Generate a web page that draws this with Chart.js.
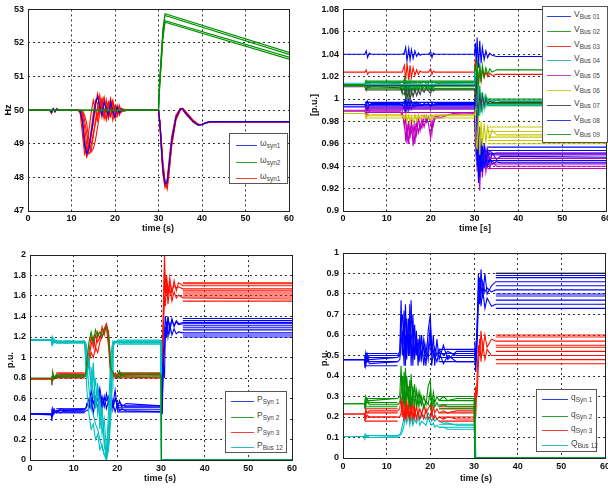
<!DOCTYPE html>
<html><head><meta charset="utf-8">
<script src="https://cdn.jsdelivr.net/npm/chart.js@4.4.1/dist/chart.umd.min.js"></script>
<style>
html,body{margin:0;padding:0;background:#fff;overflow:hidden;width:608px;height:488px;}
#wrap{position:relative;width:608px;height:488px;overflow:hidden;}
canvas{position:absolute;}
.lab{position:absolute;font:bold 9px "Liberation Sans",Arial,sans-serif;color:#111;white-space:nowrap;}
.rot{transform:translate(-50%,-50%) rotate(-90deg);}
.ctr{transform:translate(-50%,-50%);}
.leg{position:absolute;background:#fff;border:1px solid #555;box-sizing:border-box;}
.le{position:absolute;left:0;height:0;font:8.5px "Liberation Sans",Arial,sans-serif;color:#444;white-space:nowrap;}
.le i{position:absolute;height:0;border-top:1px solid;top:0;}
.le span{position:absolute;top:-7px;}
.le sub{font-size:6.5px;vertical-align:-2px;}
</style></head>
<body><div id="wrap">
<canvas id="c1" width="304" height="235" style="left:0;top:0"></canvas>
<canvas id="c2" width="320" height="235" style="left:304px;top:0"></canvas>
<canvas id="c3" width="304" height="253" style="left:0;top:235px"></canvas>
<canvas id="c4" width="320" height="253" style="left:304px;top:235px"></canvas>

<div class="lab rot" style="left:8px;top:110px">Hz</div>
<div class="lab ctr" style="left:158px;top:228px">time (s)</div>
<div class="lab rot" style="left:314px;top:105px">[p.u.]</div>
<div class="lab ctr" style="left:475px;top:228px">time [s]</div>
<div class="lab rot" style="left:10px;top:360px">p.u.</div>
<div class="lab ctr" style="left:160px;top:478px">time (s)</div>
<div class="lab rot" style="left:324px;top:358px">p.u.</div>
<div class="lab ctr" style="left:476px;top:478px">time (s)</div>

<div class="leg" style="left:229px;top:133px;width:59px;height:51px">
 <div class="le" style="top:11px"><i style="left:6px;width:21px;border-color:#3344dd"></i><span style="left:30px">ω<sub>syn1</sub></span></div>
 <div class="le" style="top:28px"><i style="left:6px;width:21px;border-color:#33a033"></i><span style="left:30px">ω<sub>syn2</sub></span></div>
 <div class="le" style="top:44px"><i style="left:6px;width:21px;border-color:#ee4433"></i><span style="left:30px">ω<sub>syn1</sub></span></div>
</div>

<div class="leg" id="leg2" style="left:542px;top:6px;width:66px;height:137px"></div>

<div class="leg" style="left:225px;top:391px;width:62px;height:62px">
 <div class="le" style="top:9px"><i style="left:5px;width:23px;border-color:#3344dd"></i><span style="left:31px">P<sub>Syn 1</sub></span></div>
 <div class="le" style="top:25px"><i style="left:5px;width:23px;border-color:#33a033"></i><span style="left:31px">P<sub>Syn 2</sub></span></div>
 <div class="le" style="top:40px"><i style="left:5px;width:23px;border-color:#ee4433"></i><span style="left:31px">P<sub>Syn 3</sub></span></div>
 <div class="le" style="top:55px"><i style="left:5px;width:23px;border-color:#33bbbb"></i><span style="left:31px">P<sub>Bus 12</sub></span></div>
</div>

<div class="leg" style="left:536px;top:389px;width:61px;height:63px">
 <div class="le" style="top:9px"><i style="left:5px;width:26px;border-color:#3344dd"></i><span style="left:34px">q<sub>Syn 1</sub></span></div>
 <div class="le" style="top:26px"><i style="left:5px;width:26px;border-color:#33a033"></i><span style="left:34px">q<sub>Syn 2</sub></span></div>
 <div class="le" style="top:40px"><i style="left:5px;width:26px;border-color:#ee4433"></i><span style="left:34px">q<sub>Syn 3</sub></span></div>
 <div class="le" style="top:55px"><i style="left:5px;width:26px;border-color:#33bbbb"></i><span style="left:34px">Q<sub>Bus 12</sub></span></div>
</div>
</div>
<script>
// ---------- Subplot 1 : frequency (Hz) ----------
const tF = [0,5,5.4,5.8,6.2,6.6,7, 11.5,12,12.5,13,13.5,14,14.5,15,15.5,16,16.5,17,17.5,18,18.5,19,19.5,20,20.5,21,21.5,22,23, 30,30.3,30.6,31,31.5,32,32.5,33,34,35,35.5,36,37,38,39,39.5,40,41,42,44,60];
const fRedA = [50,50,49.9,50.05,49.95,50.05,50, 50,49.95,49.6,48.9,48.6,48.8,49.2,49.6,50.1,50.5,50.2,49.8,50.3,50.1,49.8,50.3,49.9,49.75,50.15,49.9,50.05,49.98,50, 50,49.6,49.0,48.2,47.75,47.9,48.5,49.1,49.8,50.05,50.05,49.95,49.8,49.65,49.57,49.56,49.58,49.63,49.66,49.66,49.66];
const fRedB = [50,50,49.95,50.05,49.98,50.03,50, 50,50,49.9,49.5,49.0,48.7,48.8,49.2,49.7,50.1,50.45,50.0,49.8,50.3,49.9,49.8,50.25,49.9,49.85,50.1,49.95,50.03,50, 50,49.7,49.2,48.5,47.9,47.65,48.2,48.9,49.7,50.0,50.05,50.0,49.85,49.7,49.6,49.57,49.58,49.62,49.65,49.65,49.65];
const fRedC = [50,50,49.92,50.02,49.97,50.04,50, 50,49.98,49.8,49.2,48.75,48.95,49.4,49.9,50.3,50.2,49.9,50.3,50.0,49.7,50.1,50.35,49.9,50.1,49.95,49.9,50.05,50,50, 50,49.65,49.1,48.3,47.85,47.8,48.35,49.0,49.75,50.02,50.06,49.97,49.82,49.67,49.58,49.56,49.58,49.63,49.66,49.66,49.66];
const fRedD = [50,50,49.97,50.03,49.96,50.02,50, 50,50,49.95,49.7,49.3,48.9,48.95,49.3,49.6,49.9,50.1,50.35,49.9,49.75,50.2,50.1,49.7,50.05,50.1,49.85,50.0,50.02,50, 50,49.6,48.9,48.1,47.7,47.95,48.6,49.2,49.85,50.05,50.03,49.93,49.78,49.64,49.56,49.55,49.57,49.62,49.65,49.65,49.65];
const fRedE = [50,50,49.94,50.04,49.97,50.02,50, 50,49.9,49.3,48.7,48.9,49.4,49.9,50.3,50.0,49.7,50.2,50.2,49.75,50.1,50.25,49.85,49.95,50.15,49.9,49.95,50.05,50,50, 50,49.62,49.05,48.25,47.8,47.85,48.4,49.05,49.8,50.04,50.04,49.95,49.8,49.66,49.57,49.56,49.58,49.63,49.66,49.66,49.66];
const fRedF = [50,50,49.96,50.02,49.95,50.04,50, 50,50,50,49.85,49.6,49.1,48.75,48.85,49.1,49.5,49.9,50.2,50.4,50.0,49.75,50.1,50.3,49.85,49.8,50.15,49.95,49.97,50, 50,49.68,49.15,48.4,47.82,47.7,48.25,48.95,49.72,50.01,50.05,49.99,49.84,49.69,49.59,49.57,49.58,49.62,49.65,49.65,49.65];
const fBlue = [50,50,49.93,50.04,49.96,50.03,50, 50,49.97,49.7,49.0,48.7,48.85,49.3,49.7,50.2,50.4,50.1,49.85,50.25,50.0,49.85,50.25,49.95,49.8,50.1,49.92,50.03,49.99,50, 50,49.65,49.05,48.25,47.8,47.85,48.45,49.05,49.78,50.03,50.05,49.96,49.8,49.66,49.57,49.56,49.58,49.63,49.66,49.66,49.66];
const tG = [0,30,30.2,30.6,31,31.5,60];
const fGreenA = [50,50,50.8,51.6,52.4,52.87,51.72];
const fGreenB = [50,50,50.6,51.5,52.3,52.82,51.66];
const fGreenC = [50,50,50.7,51.4,52.2,52.66,51.58];
const fGreenD = [50,50,50.5,51.3,52.1,52.62,51.52];

// ---------- Subplot 2 : bus voltages (p.u.) ----------
const tV = [0,5,5.3,5.6,6,6.4, 13,13.5,14,14.3,14.6,15,15.3,15.6,16,16.4,16.8,17.2,17.6,18,18.5,19,19.5,20,20.3,20.6,21,22,25, 30,30.2,30.4,30.6,30.9,31.2,31.5,31.8,32.2,32.6,33,33.5,34,35,36,60];
const v01 = [1.040,1.040,1.043,1.037,1.041,1.040, 1.040,1.040,1.041,1.046,1.034,1.045,1.035,1.044,1.036,1.043,1.038,1.041,1.039,1.040,1.040,1.040,1.040,1.042,1.037,1.041,1.040,1.040,1.040, 1.040,1.050,1.030,1.055,1.028,1.052,1.032,1.046,1.035,1.043,1.037,1.041,1.039,1.038,1.038,1.038];
const v02 = [1.013,1.013,1.016,1.010,1.015,1.013, 1.014,1.005,1.018,1.000,1.016,1.003,1.015,1.005,1.014,1.006,1.013,1.007,1.014,1.009,1.012,1.010,1.014,1.009,1.013,1.011,1.013,1.014,1.014, 1.015,1.030,0.985,1.020,0.980,1.012,0.988,1.006,0.992,1.003,0.995,1.000,0.997,0.999,0.998,0.998];
const v03 = [1.024,1.024,1.026,1.022,1.024,1.024, 1.024,1.024,1.030,1.016,1.032,1.017,1.030,1.019,1.028,1.021,1.026,1.022,1.025,1.024,1.024,1.024,1.024,1.027,1.022,1.025,1.024,1.024,1.024, 1.024,1.035,1.010,1.030,1.012,1.028,1.016,1.026,1.019,1.024,1.020,1.023,1.021,1.022,1.022,1.022];
const v04 = [1.014,1.014,1.016,1.011,1.014,1.014, 1.014,1.010,1.008,1.016,1.006,1.015,1.008,1.014,1.009,1.015,1.010,1.014,1.011,1.014,1.012,1.015,1.011,1.010,1.015,1.011,1.014,1.013,1.014, 1.014,1.025,1.000,0.990,1.012,0.985,1.006,0.990,1.002,0.993,1.000,0.995,0.998,0.996,0.996,0.996];
const v05 = [0.990,0.990,0.985,0.992,0.989,0.990, 0.990,0.990,0.975,0.985,0.960,0.980,0.965,0.982,0.958,0.978,0.968,0.984,0.972,0.982,0.975,0.983,0.978,0.965,0.980,0.976,0.985,0.983,0.987, 0.988,0.960,0.980,0.935,0.950,0.918,0.955,0.930,0.952,0.935,0.948,0.938,0.945,0.940,0.940,0.940];
const v05b = [0.989,0.989,0.992,0.986,0.990,0.989, 0.989,0.985,0.980,0.962,0.978,0.960,0.975,0.970,0.976,0.960,0.980,0.970,0.978,0.974,0.985,0.979,0.984,0.980,0.970,0.983,0.982,0.985,0.986, 0.987,0.975,0.945,0.970,0.930,0.960,0.940,0.958,0.945,0.956,0.948,0.954,0.951,0.952,0.952,0.952];
const v06 = [0.987,0.987,0.983,0.988,0.985,0.986, 0.986,0.985,0.982,0.987,0.980,0.986,0.978,0.984,0.979,0.986,0.980,0.985,0.982,0.986,0.983,0.986,0.982,0.981,0.986,0.984,0.986,0.986,0.986, 0.986,0.990,0.960,0.955,0.985,0.950,0.980,0.958,0.978,0.962,0.975,0.965,0.972,0.968,0.968,0.968];
const v07 = [1.011,1.011,1.008,1.013,1.010,1.011, 1.010,1.006,1.004,1.012,1.000,1.010,0.998,1.008,1.002,1.009,1.003,1.008,1.004,1.009,1.006,1.010,1.007,1.005,1.010,1.007,1.009,1.009,1.009, 1.009,1.000,1.020,0.995,0.990,1.005,0.993,1.002,0.995,0.999,0.996,0.998,0.997,0.997,0.997,0.997];
const v08 = [0.993,0.993,0.997,0.990,0.995,0.995, 0.995,0.996,0.990,1.000,0.990,0.999,0.992,0.998,0.993,0.997,0.994,0.996,0.994,0.995,0.995,0.995,0.995,0.993,0.997,0.994,0.995,0.995,0.995, 0.995,0.970,1.000,0.940,0.980,0.930,0.965,0.935,0.960,0.940,0.955,0.943,0.952,0.946,0.949,0.948];
const v08b = [0.995,0.995,0.992,0.998,0.994,0.996, 0.996,0.994,0.998,0.988,0.999,0.990,0.997,0.991,0.996,0.993,0.997,0.994,0.996,0.994,0.996,0.995,0.996,0.994,0.996,0.995,0.996,0.996,0.996, 0.996,1.005,0.950,0.990,0.925,0.975,0.935,0.958,0.938,0.952,0.940,0.948,0.942,0.944,0.943,0.943];
const v09 = [1.012,1.012,1.014,1.010,1.012,1.012, 1.012,1.008,1.014,1.004,1.012,1.006,1.013,1.007,1.012,1.008,1.011,1.009,1.012,1.010,1.011,1.012,1.010,1.008,1.012,1.010,1.012,1.012,1.012, 1.012,1.030,1.005,1.035,1.010,1.032,1.015,1.030,1.020,1.028,1.022,1.027,1.024,1.026,1.026,1.026];
const vPreSpan = [5, 30];
const vPreGreen = [1.009,1.011,1.015,1.016];
const vPreGray = [1.008,1.012];
const vPreCyan = [1.013,1.015];
const vPreBlue = [0.992,0.994,0.997];
const vPreMagenta = [0.988,0.991,0.993];
const vPreYellow = [0.983,0.985];
const vPostSpan = [33, 60];
const vPostGreen = [0.994,0.996,1.0];
const vPostCyan = [0.995,0.999];
const vPostYellow = [0.960,0.963,0.966,0.971,0.975];
const vPostBlue = [0.945,0.951,0.954,0.957];
const vPostMagenta = [0.938,0.942,0.947,0.950];
const vLegend = ['Bus 01','Bus 02','Bus 03','Bus 04','Bus 05','Bus 06','Bus 07','Bus 08','Bus 09'];

// ---------- Subplot 3 : active power (p.u.) ----------
const tP = [0,4.9,5,5.2,5.5,6,7,8, 12.5,12.8,13,13.5,14,14.5,15,15.5,16,16.5,17,17.5,18,18.5,18.8,19,19.5,20,20.5,21,22, 30,30.1,30.3,30.5,30.8,31,31.3,31.6,32,32.5,33,33.5,34,35,60];
const pCyanA = [1.17,1.17,1.16,1.20,1.14,1.17,1.15,1.16, 1.15,1.00,0.80,0.95,0.70,0.95,0.50,0.75,0.30,0.50,0.15,0.00,0.20,0.60,1.00,1.15,1.16,1.15,1.16,1.15,1.15, 1.15,0.00,0.005,0.005,0.005,0.005,0.005,0.005,0.005,0.005,0.005,0.005,0.005,0.005,0.005];
const pCyanB = [1.17,1.17,1.15,1.13,1.18,1.15,1.16,1.15, 1.15,1.10,0.95,0.70,0.50,0.45,0.35,0.30,0.20,0.12,0.05,0.02,0.15,0.50,0.85,1.13,1.15,1.14,1.15,1.14,1.14, 1.14,0.005,0.005,0.005,0.005,0.005,0.005,0.005,0.005,0.005,0.005,0.005,0.005,0.005,0.005];
const pCyanC = [1.17,1.17,1.18,1.15,1.16,1.14,1.16,1.14, 1.16,1.14,1.10,0.90,0.90,0.60,0.80,0.45,0.60,0.25,0.40,0.10,0.30,0.80,1.05,1.14,1.16,1.15,1.16,1.15,1.16, 1.16,0.005,0.005,0.005,0.005,0.005,0.005,0.005,0.005,0.005,0.005,0.005,0.005,0.005,0.005];
const pCyanD = [1.17,1.17,1.14,1.17,1.15,1.16,1.14,1.15, 1.15,1.12,1.05,1.00,0.70,0.85,0.55,0.70,0.40,0.50,0.20,0.05,0.50,1.00,1.12,1.16,1.14,1.16,1.14,1.16,1.15, 1.15,0.005,0.005,0.005,0.005,0.005,0.005,0.005,0.005,0.005,0.005,0.005,0.005,0.005,0.005];
const pCyanE = [1.17,1.17,1.16,1.15,1.17,1.15,1.15,1.16, 1.15,0.90,0.70,0.45,0.30,0.35,0.20,0.25,0.10,0.15,0.05,0.00,0.10,0.40,0.70,1.10,1.15,1.16,1.14,1.15,1.15, 1.15,0.005,0.005,0.005,0.005,0.005,0.005,0.005,0.005,0.005,0.005,0.005,0.005,0.005,0.005];
const pGreen = [0.80,0.80,0.75,0.86,0.79,0.83,0.81,0.82, 0.82,0.85,0.95,1.15,1.25,1.15,1.27,1.20,1.25,1.20,1.28,1.30,1.20,0.90,0.86,0.85,0.82,0.80,0.87,0.82,0.84, 0.83,0.00,0,0,0,0,0,0,0,0,0,0,0,0,0];
const pRedA = [0.79,0.79,0.73,0.85,0.79,0.83,0.80,0.82, 0.82,0.84,0.90,1.05,1.20,1.10,1.22,1.15,1.20,1.25,1.28,1.33,1.20,0.85,0.83,0.82,0.84,0.80,0.84,0.82,0.82, 0.82,0.90,1.05,1.40,2.00,1.70,1.80,1.60,1.78,1.62,1.75,1.65,1.73,1.70,1.70];
const pRedB = [0.79,0.79,0.77,0.82,0.80,0.81,0.84,0.80, 0.81,0.82,0.85,0.95,1.05,1.00,1.10,1.05,1.15,1.20,1.25,1.30,1.10,0.80,0.82,0.86,0.80,0.83,0.80,0.83,0.81, 0.80,0.85,0.95,1.20,1.60,1.50,1.72,1.52,1.68,1.55,1.64,1.58,1.61,1.58,1.57];
const pRedC = [0.79,0.79,0.80,0.78,0.82,0.80,0.82,0.84, 0.83,0.86,0.88,1.00,1.12,1.20,1.08,1.25,1.18,1.30,1.22,1.32,1.25,0.95,0.84,0.81,0.85,0.82,0.81,0.84,0.83, 0.84,0.70,1.10,1.30,1.85,1.60,1.75,1.65,1.72,1.66,1.70,1.68,1.69,1.67,1.67];
const pBlueA = [0.45,0.44,0.38,0.50,0.45,0.48,0.46,0.48, 0.50,0.51,0.52,0.60,0.50,0.65,0.55,0.70,0.55,0.62,0.52,0.65,0.55,0.60,0.52,0.55,0.68,0.50,0.58,0.52,0.55, 0.53,0.65,0.45,0.95,0.80,1.30,1.20,1.40,1.25,1.38,1.30,1.36,1.33,1.34,1.34];
const pBlueB = [0.45,0.45,0.42,0.47,0.50,0.46,0.49,0.47, 0.47,0.48,0.48,0.50,0.60,0.45,0.60,0.50,0.65,0.50,0.62,0.50,0.58,0.48,0.52,0.55,0.47,0.55,0.48,0.50,0.48, 0.47,0.55,0.60,0.90,1.10,1.22,1.35,1.20,1.32,1.22,1.28,1.23,1.25,1.24,1.24];
const pBlueC = [0.45,0.45,0.47,0.43,0.48,0.47,0.50,0.49, 0.49,0.50,0.55,0.52,0.68,0.55,0.62,0.58,0.70,0.55,0.60,0.58,0.62,0.52,0.58,0.50,0.60,0.53,0.56,0.54,0.52, 0.52,0.40,0.70,1.00,1.25,1.40,1.28,1.38,1.30,1.36,1.31,1.35,1.32,1.33,1.33];
const pPreSpan = [6, 12.5];
const pPreBlue = [0.46,0.48,0.50];
const pPreRed = [0.80,0.82,0.84,0.85];
const pPreGreen = [0.81,0.83];
const pPreCyan = [1.14,1.16];
const pMidSpan = [20, 30];
const pMidBlue = [0.47,0.49,0.51,0.53];
const pMidRed = [0.80,0.83,0.85];
const pMidGreen = [0.81,0.84];
const pMidCyan = [1.13,1.15,1.17];
const pPostSpan = [35, 60];
const pPostBlue = [1.20,1.22,1.27,1.29,1.31,1.36,1.38];
const pPostRed = [1.55,1.59,1.61,1.63,1.65,1.72,1.73];

// ---------- Subplot 4 : reactive power (p.u.) ----------
const tQ = [0,4.9,5,5.2,5.5,6, 12.5,13,13.3,13.6,14,14.3,14.6,15,15.3,15.6,16,16.4,16.8,17.2,17.6,18,18.5,19,19.5,20,20.3,20.7,21,21.5,22,23,24,26, 30,30.2,30.4,30.7,31,31.3,31.6,32,32.5,33,34,35,60];
const qBlueA = [0.48,0.48,0.44,0.51,0.47,0.50, 0.50,0.52,0.77,0.50,0.72,0.45,0.68,0.50,0.75,0.45,0.70,0.48,0.62,0.45,0.60,0.48,0.55,0.45,0.62,0.70,0.50,0.60,0.45,0.58,0.48,0.55,0.48,0.52, 0.52,0.57,0.47,0.60,0.90,0.75,0.92,0.78,0.90,0.80,0.84,0.86,0.86];
const qBlueB = [0.48,0.48,0.46,0.49,0.51,0.46, 0.47,0.48,0.55,0.62,0.45,0.75,0.55,0.60,0.50,0.77,0.45,0.65,0.50,0.58,0.47,0.60,0.45,0.55,0.48,0.60,0.45,0.52,0.50,0.47,0.52,0.46,0.50,0.47, 0.47,0.50,0.42,0.55,0.75,0.85,0.74,0.82,0.73,0.78,0.74,0.75,0.75];
const qBlueC = [0.48,0.48,0.50,0.45,0.49,0.48, 0.49,0.50,0.65,0.70,0.55,0.60,0.48,0.68,0.55,0.58,0.62,0.50,0.56,0.52,0.55,0.50,0.58,0.50,0.52,0.65,0.55,0.50,0.54,0.50,0.53,0.50,0.52,0.50, 0.50,0.53,0.50,0.65,0.82,0.88,0.80,0.86,0.81,0.83,0.81,0.82,0.82];
const qGreenA = [0.265,0.265,0.24,0.30,0.28,0.28, 0.29,0.30,0.45,0.28,0.42,0.25,0.40,0.27,0.38,0.25,0.35,0.26,0.33,0.25,0.32,0.26,0.30,0.26,0.35,0.38,0.26,0.32,0.27,0.30,0.28,0.30,0.28,0.29, 0.29,0,0,0,0,0,0,0,0,0,0,0,0];
const qGreenB = [0.265,0.265,0.27,0.25,0.29,0.26, 0.26,0.27,0.32,0.40,0.26,0.44,0.28,0.35,0.24,0.41,0.26,0.36,0.25,0.32,0.26,0.30,0.24,0.28,0.26,0.33,0.24,0.28,0.25,0.27,0.25,0.26,0.25,0.25, 0.25,0,0,0,0,0,0,0,0,0,0,0,0];
const qRedA = [0.215,0.215,0.18,0.24,0.22,0.23, 0.23,0.24,0.30,0.20,0.32,0.19,0.28,0.20,0.30,0.21,0.27,0.20,0.25,0.21,0.24,0.21,0.26,0.22,0.24,0.26,0.21,0.25,0.22,0.24,0.22,0.23,0.22,0.23, 0.23,0.32,0.20,0.40,0.55,0.50,0.62,0.52,0.60,0.54,0.58,0.57,0.57];
const qRedB = [0.215,0.215,0.22,0.19,0.21,0.20, 0.20,0.20,0.22,0.28,0.18,0.30,0.20,0.26,0.18,0.28,0.19,0.25,0.19,0.23,0.19,0.22,0.19,0.24,0.19,0.20,0.23,0.19,0.21,0.19,0.20,0.19,0.20,0.19, 0.19,0.25,0.35,0.30,0.45,0.58,0.47,0.56,0.48,0.53,0.50,0.50,0.50];
const qCyanA = [0.105,0.105,0.10,0.115,0.105,0.11, 0.11,0.115,0.13,0.16,0.20,0.22,0.20,0.24,0.19,0.23,0.18,0.22,0.20,0.21,0.19,0.20,0.21,0.19,0.22,0.20,0.18,0.20,0.18,0.19,0.18,0.17,0.17,0.16, 0.16,0.24,0,0,0,0,0,0,0,0,0,0,0];
const qCyanB = [0.105,0.105,0.11,0.10,0.11,0.10, 0.105,0.11,0.115,0.13,0.16,0.20,0.17,0.21,0.16,0.20,0.16,0.19,0.17,0.20,0.16,0.18,0.17,0.16,0.20,0.17,0.16,0.17,0.15,0.16,0.15,0.15,0.14,0.14, 0.14,0.20,0,0,0,0,0,0,0,0,0,0,0];
const qPreSpan = [5, 12.5];
const qPreBlue = [0.45,0.47,0.49,0.51];
const qPreGreen = [0.25,0.27,0.29];
const qPreRed = [0.18,0.20,0.22,0.24];
const qPreCyan = [0.10,0.11];
const qMidSpan = [22, 30];
const qMidBlue = [0.47,0.49,0.51,0.53];
const qMidGreen = [0.24,0.26,0.28,0.30];
const qMidRed = [0.18,0.20,0.22,0.24,0.25];
const qMidCyan = [0.15,0.165];
const qPostSpan = [35, 60];
const qPostBlue = [0.73,0.77,0.79,0.80,0.84,0.88,0.89,0.90];
const qPostRed = [0.46,0.48,0.52,0.54,0.55,0.59,0.60];
const qPostYellow = [0.905];

// ---------- drawing ----------
const C = {blue:'#0000ff', green:'#009000', red:'#ff1000', cyan:'#00bfbf', magenta:'#bf00bf', yellow:'#c8c800', gray:'#404040'};
function line(t, v, color){ return {data:t.map((x,i)=>({x:x,y:v[i]})), borderColor:color}; }
function bands(levels, span, color){ return levels.map(l=>({data:[{x:span[0],y:l},{x:span[1],y:l}], borderColor:color})); }

const boxPlugin = {id:'box', afterDraw(ch){ const a=ch.chartArea, c=ch.ctx; c.save(); c.strokeStyle='#222'; c.lineWidth=1; c.setLineDash([]); c.strokeRect(Math.round(a.left)+0.5, Math.round(a.top)+0.5, Math.round(a.right-a.left), Math.round(a.bottom-a.top)); c.restore(); }};
const tickFont = {family:'"Liberation Sans", Arial, sans-serif', size:9, weight:'bold'};

function make(id, datasets, ymin, ymax, ystep, yW, xH, pad, xPad){
  datasets.forEach(d=>{ d.borderWidth=1.1; d.pointRadius=0; d.fill=false; d.tension=0; });
  return new Chart(document.getElementById(id), {
    type:'line',
    data:{datasets:datasets},
    options:{
      responsive:false, animation:false, devicePixelRatio:1,
      layout:{padding:pad},
      plugins:{legend:{display:false}, tooltip:{enabled:false}},
      scales:{
        x:{type:'linear', min:0, max:60,
           ticks:{stepSize:10, color:'#111', font:tickFont, padding:xPad, maxRotation:0},
           grid:{color:'#333', drawTicks:false}, border:{display:false, dash:[2,3]},
           afterFit:s=>{s.height=xH;}},
        y:{type:'linear', min:ymin, max:ymax,
           ticks:{stepSize:ystep, color:'#111', font:tickFont, padding:4, callback:v=>String(+v.toFixed(3))},
           grid:{color:'#333', drawTicks:false}, border:{display:false, dash:[2,3]},
           afterFit:s=>{s.width=yW;}}
      }
    },
    plugins:[boxPlugin]
  });
}

// subplot 1
make('c1', [
  line(tG,fGreenD,C.green), line(tG,fGreenC,C.green), line(tG,fGreenB,C.green), line(tG,fGreenA,C.green),
  line(tF,fBlue,C.blue),
  line(tF,fRedF,C.red), line(tF,fRedE,C.red), line(tF,fRedD,C.red), line(tF,fRedC,C.red), line(tF,fRedB,C.red), line(tF,fRedA,C.red)
], 47, 53, 1, 28, 24, {top:6,right:15,left:0,bottom:0}, 2);

// subplot 2
make('c2', [].concat(
  bands(vPreGreen,vPreSpan,C.green), bands(vPreGray,vPreSpan,C.gray), bands(vPreCyan,vPreSpan,C.cyan),
  bands(vPreBlue,vPreSpan,C.blue), bands(vPreMagenta,vPreSpan,C.magenta), bands(vPreYellow,vPreSpan,C.yellow),
  bands(vPostGreen,vPostSpan,C.green), bands(vPostCyan,vPostSpan,C.cyan), bands(vPostYellow,vPostSpan,C.yellow),
  bands(vPostBlue,vPostSpan,C.blue), bands(vPostMagenta,vPostSpan,C.magenta),
  [line(tV,v06,C.yellow), line(tV,v07,C.gray), line(tV,v04,C.cyan), line(tV,v09,C.green), line(tV,v02,C.green),
   line(tV,v08,C.blue), line(tV,v08b,C.blue), line(tV,v05b,C.magenta), line(tV,v05,C.magenta),
   line(tV,v03,C.red), line(tV,v01,C.blue)]
), 0.9, 1.08, 0.02, 39, 24, {top:6,right:18,left:0,bottom:0}, 2);

// subplot 3
make('c3', [].concat(
  bands(pPreGreen,pPreSpan,C.green), bands(pMidGreen,pMidSpan,C.green), [line(tP,pGreen,C.green)],
  bands(pPreCyan,pPreSpan,C.cyan), bands(pMidCyan,pMidSpan,C.cyan),
  [line(tP,pCyanA,C.cyan), line(tP,pCyanB,C.cyan), line(tP,pCyanC,C.cyan), line(tP,pCyanD,C.cyan), line(tP,pCyanE,C.cyan)],
  bands(pPreBlue,pPreSpan,C.blue), bands(pMidBlue,pMidSpan,C.blue), bands(pPostBlue,pPostSpan,C.blue),
  [line(tP,pBlueA,C.blue), line(tP,pBlueB,C.blue), line(tP,pBlueC,C.blue)],
  bands(pPreRed,pPreSpan,C.red), bands(pMidRed,pMidSpan,C.red), bands(pPostRed,pPostSpan,C.red),
  [line(tP,pRedA,C.red), line(tP,pRedB,C.red), line(tP,pRedC,C.red)]
), 0, 2, 0.2, 30, 28, {top:20,right:12,left:0,bottom:0}, 3);

// subplot 4
make('c4', [].concat(
  bands(qPostYellow,qPostSpan,C.yellow),
  bands(qPreBlue,qPreSpan,C.blue), bands(qMidBlue,qMidSpan,C.blue), bands(qPostBlue,qPostSpan,C.blue),
  [line(tQ,qBlueA,C.blue), line(tQ,qBlueB,C.blue), line(tQ,qBlueC,C.blue)],
  bands(qPreGreen,qPreSpan,C.green), bands(qMidGreen,qMidSpan,C.green),
  [line(tQ,qGreenA,C.green), line(tQ,qGreenB,C.green)],
  bands(qPreRed,qPreSpan,C.red), bands(qMidRed,qMidSpan,C.red), bands(qPostRed,qPostSpan,C.red),
  [line(tQ,qRedA,C.red), line(tQ,qRedB,C.red)],
  bands(qPreCyan,qPreSpan,C.cyan), bands(qMidCyan,qMidSpan,C.cyan),
  [line(tQ,qCyanA,C.cyan), line(tQ,qCyanB,C.cyan)]
), 0, 1, 0.1, 39, 30, {top:18,right:19,left:0,bottom:0}, 3);

// legend of subplot 2
const legCols = ['#3344dd','#33a033','#ee4433','#33bbbb','#bb44bb','#cccc33','#555555','#3344dd','#33a033'];
const leg2 = document.getElementById('leg2');
vLegend.forEach((name,i)=>{
  const d=document.createElement('div'); d.className='le'; d.style.top=(9+i*14.8)+'px';
  d.innerHTML='<i style="left:4px;width:24px;border-color:'+legCols[i]+'"></i><span style="left:31px">V<sub>'+name+'</sub></span>';
  leg2.appendChild(d);
});
</script>
</body></html>
